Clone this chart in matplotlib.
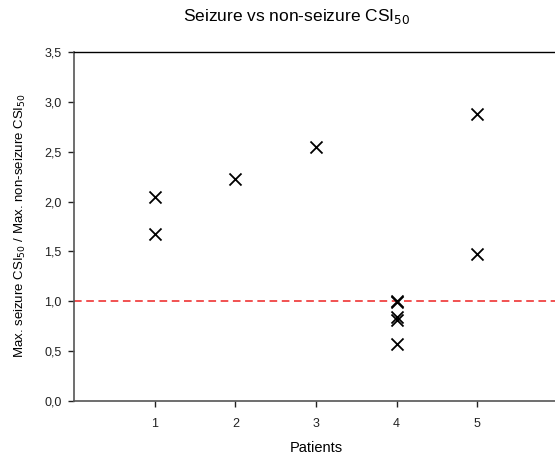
import matplotlib
matplotlib.use("Agg")
import matplotlib.pyplot as plt
from matplotlib.ticker import FuncFormatter

plt.rcParams['font.family'] = ['Liberation Sans', 'DejaVu Sans']

patients = [1, 1, 2, 3, 4, 4, 4, 4, 4, 5, 5]
ratios = [2.05, 1.67, 2.23, 2.55, 1.00, 0.99, 0.84, 0.81, 0.57, 2.88, 1.47]
x_ticks = [1, 2, 3, 4, 5]
y_ticks = [0.0, 0.5, 1.0, 1.5, 2.0, 2.5, 3.0, 3.5]
reference_level = 1.0

W, H = 555, 458
fig = plt.figure(figsize=(W / 100, H / 100), dpi=100)
left, right, top, bottom = 74, 558, 52, 401
ax = fig.add_axes([left / W, 1 - bottom / H, (right - left) / W, (bottom - top) / H])

ax.axhline(reference_level, color='#ee2222', linestyle=(0, (5, 3)), linewidth=1.1, zorder=1)
ax.scatter(patients, ratios, marker='x', s=75, color='black', linewidths=1.3, zorder=3)

ax.set_xlim(0, 6)
ax.set_ylim(0, 3.5)
ax.set_xticks(x_ticks)
ax.set_yticks(y_ticks)
ax.yaxis.set_major_formatter(FuncFormatter(lambda v, p: f"{v:.1f}".replace('.', ',')))
ax.tick_params(direction='out', length=4, width=1, labelsize=9, colors='#222222', pad=5)
ax.tick_params(axis='x', pad=8)
ax.spines['right'].set_visible(False)
for s in ['left', 'bottom']:
    ax.spines[s].set_color('#555555')
    ax.spines[s].set_linewidth(1.2)
ax.spines['top'].set_color('black')
ax.spines['top'].set_linewidth(1.0)

fig.text(316 / W, 1 - 448 / H, 'Patients', ha='center', va='center', fontsize=10.5)
fig.text(20 / W, 1 - 226 / H, r'Max. seizure CSI$_{50}$ / Max. non-seizure CSI$_{50}$',
         ha='center', va='center', rotation=90, fontsize=9.5)
fig.text(297 / W, 1 - 17 / H, r'Seizure vs non-seizure CSI$_{50}$', ha='center', va='center', fontsize=12.5)

fig.savefig('out.png', dpi=100)
